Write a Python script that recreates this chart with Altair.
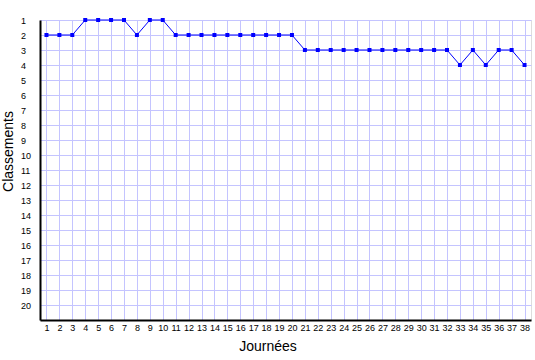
import altair as alt
import pandas as pd

journees = list(range(1, 39))
classements = [2, 2, 2, 1, 1, 1, 1, 2, 1, 1,
               2, 2, 2, 2, 2, 2, 2, 2, 2, 2,
               3, 3, 3, 3, 3, 3, 3, 3, 3, 3,
               3, 3, 4, 3, 4, 3, 3, 4]
y_ticks = list(range(1, 21))

df = pd.DataFrame({"Journée": journees, "Classement": classements})

FONT = "Liberation Sans"

x = alt.X("Journée:Q",
          scale=alt.Scale(domain=[0.5, 38.5], nice=False, zero=False),
          axis=alt.Axis(values=journees, title="Journées", grid=True,
                        gridColor="#c4c4ff", gridWidth=1, gridOpacity=1,
                        domainColor="black", domainWidth=2, ticks=False,
                        labelPadding=3, labelFontSize=9, labelFont=FONT,
                        labelColor="black", labelFlush=False, labelOverlap=False,
                        titleFont=FONT, titleFontSize=14, titleFontWeight="normal",
                        titleColor="black", titleX=227.5, titleY=30,
                        titleBaseline="alphabetic", titleAnchor="middle"))
y = alt.Y("Classement:Q",
          scale=alt.Scale(domain=[1, 21], reverse=True, nice=False, zero=False),
          axis=alt.Axis(values=y_ticks, title="Classements", grid=True,
                        gridColor="#c4c4ff", gridWidth=1, gridOpacity=1,
                        domainColor="black", domainWidth=2, ticks=False,
                        labelPadding=19.5, labelAlign="left", labelFontSize=9,
                        labelFont=FONT, labelColor="black", labelOverlap=False,
                        labelFlush=False,
                        titleFont=FONT, titleFontSize=14, titleFontWeight="normal",
                        titleColor="black", titleX=-28, titleY=131,
                        titleAnchor="middle", titleAngle=-90, titleBaseline="alphabetic"))

line = alt.Chart(df).mark_line(color="#0000ff", strokeWidth=1).encode(x=x, y=y)
pts = alt.Chart(df).mark_point(shape="square", filled=True, color="#0000ff",
                               size=16, opacity=1).encode(x=x, y=y)

chart = (line + pts).properties(
    width=491, height=300,
    autosize=alt.AutoSizeParams(type="none"),
    padding={"left": 40, "top": 20, "right": 4, "bottom": 40},
).configure_view(stroke=None).configure(background="white")

chart.save("out.html", embed_options={"renderer": "svg", "actions": False})
